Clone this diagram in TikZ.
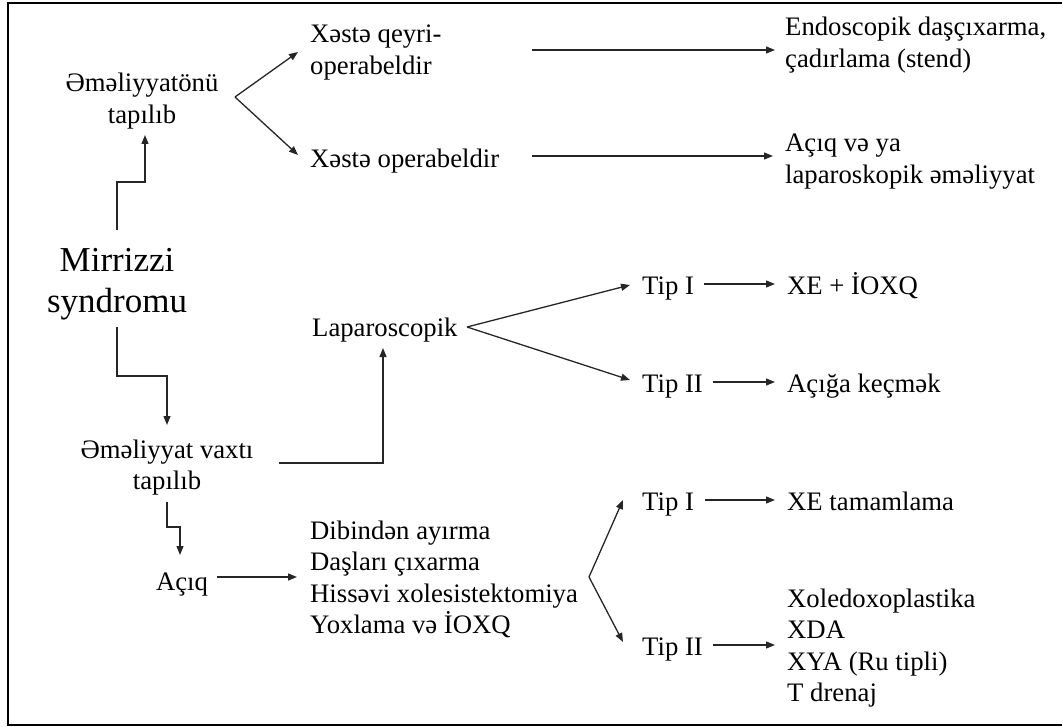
\documentclass[tikz,border=0pt]{standalone}
\usepackage{fontspec}
\setmainfont{Liberation Serif}
\usetikzlibrary{arrows.meta}

% stacked lines, first baseline is the box baseline
\newcommand\stackl[1]{\begin{tabular}[t]{@{}l@{}}#1\end{tabular}}
\newcommand\stackc[1]{\begin{tabular}[t]{@{}c@{}}#1\end{tabular}}

\tikzset{
  txt/.style={inner sep=0pt, anchor=base west, font=\fontsize{26.7}{31.5}\selectfont},
  ctxt/.style={txt, anchor=base},
  big/.style={inner sep=0pt, anchor=base, font=\fontsize{35}{40}\selectfont},
  link/.style={draw=black!85, line width=1.3pt},
  arr/.style={link, -{Triangle[length=9pt,width=7pt]}},
}

\begin{document}
\begin{tikzpicture}[x=1pt,y=-1pt]
\useasboundingbox (0,0) rectangle (1062,727);
\draw[line width=2pt] (8,3) rectangle (1065,725);

% left column
\node[big]  (mirr) at (117,272) {\stackc{Mirrizzi\\syndromu}};
\node[ctxt] (onu)  at (142,92)  {\stackc{Əməliyyatönü\\tapılıb}};
\node[ctxt] (vaxt) at (167,458) {\stackc{Əməliyyat vaxtı\\tapılıb}};
\node[ctxt] (acq)  at (182,590) {Açıq};

% middle column
\node[txt] (qeyri) at (310,43)  {\stackl{Xəstə qeyri-\\operabeldir}};
\node[txt] (oper)  at (310,168) {Xəstə operabeldir};
\node[txt] (lap)   at (312,336) {Laparoscopik};
\node[txt] (list)  at (310,539) {\stackl{Dibindən ayırma\\Daşları çıxarma\\Hissəvi xolesistektomiya\\Yoxlama və İOXQ}};

% type nodes
\node[txt] (t1) at (642,294) {Tip I};
\node[txt] (t2) at (642,392) {Tip II};
\node[txt] (t3) at (642,510) {Tip I};
\node[txt] (t4) at (642,655) {Tip II};

% right column
\node[txt] (endo) at (785,36)  {\stackl{Endoscopik daşçıxarma,\\çadırlama (stend)}};
\node[txt] (acv)  at (785,152) {\stackl{Açıq və ya\\laparoskopik əməliyyat}};
\node[txt] (xe)   at (787,294) {XE + İOXQ};
\node[txt] (acg)  at (787,392) {Açığa keçmək};
\node[txt] (tam)  at (787,510) {XE tamamlama};
\node[txt] (xol)  at (787,607) {\stackl{Xoledoxoplastika\\XDA\\XYA (Ru tipli)\\T drenaj}};

% fork points
\coordinate (f1) at ([shift={(93,5)}]onu.base);
\coordinate (f2) at ([shift={(155,-9)}]lap.base west);
\coordinate (f3) at ([shift={(279,38)}]list.base west);

% Mirrizzi -> preoperative / intraoperative
\draw[arr] ([shift={(0,-42)}]mirr.base) |- ([shift={(3,90)}]onu.base) -- ([shift={(3,43)}]onu.base);
\draw[arr] ([shift={(0,55)}]mirr.base) -- ++(0,49) -| ([shift={(0,-33)}]vaxt.base);

% preoperative branch
\draw[arr] (f1) -- ([shift={(-12,9)}]qeyri.base west);
\draw[arr] (f1) -- ([shift={(-12,-13)}]oper.base west);
\draw[arr] ([shift={(222,7)}]qeyri.base west) -- ([shift={(-10,14)}]endo.base west);
\draw[arr] ([shift={(222,-12)}]oper.base west) -- ([shift={(-12,4)}]acv.base west);

% laparoscopic branch
\draw[arr] ([shift={(112,5)}]vaxt.base) -| ([shift={(71,12)}]lap.base west);
\draw[arr] (f2) -- ([shift={(-12,-9)}]t1.base west);
\draw[arr] (f2) -- ([shift={(-12,-12)}]t2.base west);
\draw[arr] ([shift={(62,-10)}]t1.base west) -- ([shift={(-12,-10)}]xe.base west);
\draw[arr] ([shift={(71,-10)}]t2.base west) -- ([shift={(-12,-10)}]acg.base west);

% open branch
\draw[arr] ([shift={(0,44)}]vaxt.base) -- ++(0,25) -| ([shift={(-2,-35)}]acq.base);
\draw[arr] ([shift={(35,-13)}]acq.base) -- ([shift={(-13,38)}]list.base west);
\draw[arr] (f3) -- ([shift={(-19,-10)}]t3.base west);
\draw[arr] (f3) -- ([shift={(-19,-13)}]t4.base west);
\draw[arr] ([shift={(63,-10)}]t3.base west) -- ([shift={(-12,-10)}]tam.base west);
\draw[arr] ([shift={(71,-10)}]t4.base west) -- ([shift={(-12,38)}]xol.base west);
\end{tikzpicture}
\end{document}
